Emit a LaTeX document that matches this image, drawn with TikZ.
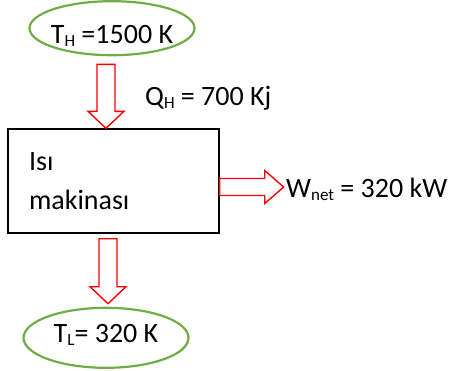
\documentclass[tikz,border=0pt]{standalone}
\usepackage{fontspec}
\setmainfont{Carlito}
\usetikzlibrary{shapes.geometric,positioning}

\definecolor{resgreen}{RGB}{112,173,71}
\newcommand{\lowsub}[1]{\raisebox{-3pt}{\fontsize{17}{17}\selectfont #1}}

\begin{document}
\begin{tikzpicture}[x=1pt,y=-1pt,
 reservoir/.style={ellipse,draw=resgreen,line width=2.2pt,minimum width=165pt,inner xsep=-10pt,inner ysep=0pt,font=\fontsize{28}{34}\selectfont},
 enginebox/.style={draw=black,line width=1.4pt,minimum width=211pt,minimum height=104pt,text width=169pt,inner xsep=21pt,align=left,font=\fontsize{28}{39}\selectfont},
 blockarrow/.style={draw=red,fill=white,line width=1.4pt,line join=miter},
 lbl/.style={anchor=base west,inner sep=0pt,font=\fontsize{28}{34}\selectfont}
]
\useasboundingbox (0,0) rectangle (454,370);
\node[enginebox] (engine) at (113.5,181) {Isı\\makinası};
\node[reservoir,minimum height=54pt,text height=30pt,text depth=0pt,above=72pt of engine.north,xshift=-1.5pt] (hot) {T\lowsub{H} =1500 K\hspace{11pt}};
\node[reservoir,minimum height=60pt,text height=18pt,text depth=8pt,below=73pt of engine.south,xshift=-7.5pt] (cold) {T\lowsub{L}= 320 K\hspace{13pt}};
% heat in, work out, heat rejected
\coordinate (qin) at ([xshift=-7.5pt]engine.north);
\coordinate (wtail) at ([yshift=-6pt]engine.east);
\coordinate (qout) at ([xshift=2pt,yshift=3pt]cold.north);
\draw[blockarrow] (qin) -- ++(-18,-17) -- ++(9,0) -- ++(0,-47) -- ++(18,0) -- ++(0,47) -- ++(9,0) -- cycle;
\draw[blockarrow] (wtail) -- ++(0,-8.5) -- ++(45,0) -- ++(0,-8) -- ++(19,16.5) -- ++(-19,16.5) -- ++(0,-8) -- ++(-45,0) -- cycle;
\draw[blockarrow] (qout) -- ++(-18,-17) -- ++(9,0) -- ++(0,-48) -- ++(18,0) -- ++(0,48) -- ++(9,0) -- cycle;
\node[lbl] (qh) at (145,105) {Q\lowsub{H} = 700 Kj};
\node[lbl] (wnet) at (286,197) {W\lowsub{net} = 320 kW};
\end{tikzpicture}
\end{document}
